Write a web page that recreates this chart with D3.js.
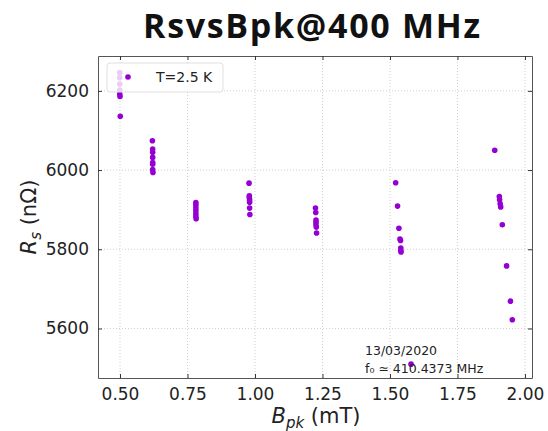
<!DOCTYPE html>
<html>
<head>
<meta charset="utf-8">
<script src="https://cdn.jsdelivr.net/npm/d3@7"></script>
<style>
  body { margin: 0; background: #fff; }
  svg { display: block; }
</style>
</head>
<body>
<svg width="548" height="431"></svg>
<script>
// datos: campo pico (mT) y resistencia superficial (nΩ)
const bpk = [
  0.499, 0.499, 0.499, 0.499, 0.499, 0.500, 0.501,
  0.620, 0.621, 0.621, 0.621, 0.621, 0.621, 0.621, 0.622,
  0.781, 0.781, 0.781, 0.781, 0.781, 0.781, 0.782,
  0.978, 0.979, 0.979, 0.980, 0.980, 0.980, 0.981,
  1.224, 1.225, 1.226, 1.226, 1.226, 1.227, 1.228,
  1.521, 1.528, 1.533, 1.537, 1.539, 1.540, 1.540, 1.541,
  1.888, 1.905, 1.906, 1.908, 1.910, 1.916, 1.932, 1.946, 1.953,
  1.578
];
const rs = [
  6246, 6233, 6217, 6202, 6192, 6186, 6136,
  6074, 6053, 6045, 6032, 6019, 6015, 6001, 5994,
  5918, 5912, 5905, 5898, 5890, 5883, 5877,
  5967, 5935, 5931, 5925, 5919, 5904, 5888,
  5904, 5893, 5874, 5868, 5862, 5856, 5841,
  5968, 5909, 5853, 5826, 5822, 5803, 5797, 5793,
  6050, 5933, 5925, 5915, 5907, 5862, 5758, 5669, 5622,
  5510
];
const xTicks = [0.50, 0.75, 1.00, 1.25, 1.50, 1.75, 2.00];
const yTicks = [5600, 5800, 6000, 6200];
const legendLabel = "T=2.5 K";
const noteLines = ["13/03/2020", "f\u2080 \u2243 410.4373 MHz"];

const svg = d3.select("svg");
const color = "#9400d3";

// márgenes del área de trazado
const pLeft = 98, pRight = 532, pTop = 56, pBottom = 378;

const x = d3.scaleLinear().domain([0.4185, 2.026]).range([pLeft, pRight]);
const y = d3.scaleLinear().domain([5475, 6288]).range([pBottom, pTop]);

// título
svg.append("text")
  .attr("x", 311.5).attr("y", 38)
  .attr("text-anchor", "middle")
  .attr("textLength", 337)
  .attr("lengthAdjust", "spacing")
  .style("font-family", "'Open Sans', sans-serif")
  .style("font-weight", "bold")
  .style("font-size", "34px")
  .style("fill", "#111")
  .text("RsvsBpk@400 MHz");

// rejilla punteada
const grid = svg.append("g");
grid.selectAll(".gx").data(xTicks).enter().append("line")
  .attr("x1", d => x(d)).attr("x2", d => x(d))
  .attr("y1", pTop).attr("y2", pBottom)
  .attr("stroke", "#d0d0d0").attr("stroke-dasharray", "1,2");
grid.selectAll(".gy").data(yTicks).enter().append("line")
  .attr("x1", pLeft).attr("x2", pRight)
  .attr("y1", d => y(d)).attr("y2", d => y(d))
  .attr("stroke", "#d0d0d0").attr("stroke-dasharray", "1,2");

// ejes con marcas hacia dentro
const fmtX = d3.format(".2f");
const axB = svg.append("g").attr("transform", `translate(0,${pBottom})`)
  .call(d3.axisBottom(x).tickValues(xTicks).tickFormat(fmtX).tickSizeInner(-4).tickSizeOuter(0).tickPadding(10));
const axT = svg.append("g").attr("transform", `translate(0,${pTop})`)
  .call(d3.axisTop(x).tickValues(xTicks).tickFormat("").tickSizeInner(-4).tickSizeOuter(0));
const axL = svg.append("g").attr("transform", `translate(${pLeft},0)`)
  .call(d3.axisLeft(y).tickValues(yTicks).tickFormat(d3.format("d")).tickSizeInner(-4).tickSizeOuter(0).tickPadding(9));
const axR = svg.append("g").attr("transform", `translate(${pRight},0)`)
  .call(d3.axisRight(y).tickValues(yTicks).tickFormat("").tickSizeInner(-4).tickSizeOuter(0));

[axB, axT, axL, axR].forEach(a => {
  a.select(".domain").attr("stroke", "#555");
  a.selectAll(".tick line").attr("stroke", "#333");
  a.selectAll("text")
    .style("font-family", "'DejaVu Sans', sans-serif")
    .style("font-size", "17px")
    .style("fill", "#222");
});

// puntos
svg.append("g").selectAll("circle")
  .data(bpk.map((b, i) => ({ b: b, r: rs[i] })))
  .enter().append("circle")
  .attr("cx", d => x(d.b))
  .attr("cy", d => y(d.r))
  .attr("r", 2.8)
  .attr("fill", color);

// leyenda semitransparente
const leg = svg.append("g");
leg.append("rect")
  .attr("x", 107).attr("y", 63).attr("width", 116).attr("height", 29)
  .attr("rx", 3)
  .attr("fill", "#fff").attr("fill-opacity", 0.8)
  .attr("stroke", "#e0e0e0");
leg.append("circle").attr("cx", 128).attr("cy", 77).attr("r", 2.8).attr("fill", color);
leg.append("text")
  .attr("x", 156).attr("y", 82)
  .style("font-family", "'DejaVu Sans', sans-serif")
  .style("font-size", "14px")
  .style("fill", "#222")
  .text(legendLabel);

// nota de fecha y frecuencia
svg.append("g").selectAll("text").data(noteLines).enter().append("text")
  .attr("x", 365)
  .attr("y", (d, i) => 355 + i * 18)
  .style("font-family", "'DejaVu Sans', sans-serif")
  .style("font-size", "12.5px")
  .style("fill", "#222")
  .text(d => d);

// etiquetas de ejes
const xl = svg.append("text")
  .attr("x", 316).attr("y", 423)
  .attr("text-anchor", "middle")
  .style("font-family", "'DejaVu Sans', sans-serif")
  .style("font-size", "21px")
  .style("fill", "#222");
xl.append("tspan").style("font-style", "italic").text("B");
xl.append("tspan").attr("dy", 5).style("font-size", "15px").style("font-style", "italic").text("pk");
xl.append("tspan").attr("dy", -5).text(" (mT)");

const yl = svg.append("text")
  .attr("transform", "translate(36,217) rotate(-90)")
  .attr("text-anchor", "middle")
  .style("font-family", "'DejaVu Sans', sans-serif")
  .style("font-size", "21px")
  .style("fill", "#222");
yl.append("tspan").style("font-style", "italic").text("R");
yl.append("tspan").attr("dy", 5).style("font-size", "15px").style("font-style", "italic").text("s");
yl.append("tspan").attr("dy", -5).text(" (n\u03a9)");
</script>
</body>
</html>
